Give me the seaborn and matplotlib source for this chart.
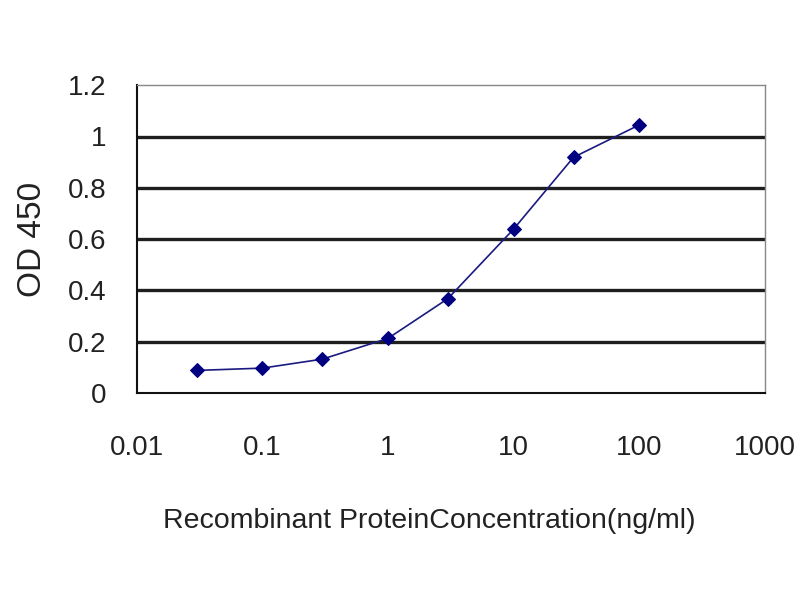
import numpy as np
import pandas as pd
import seaborn as sns
import matplotlib
matplotlib.use("Agg")
import matplotlib.pyplot as plt
from matplotlib.ticker import FixedLocator, FixedFormatter, NullLocator

# Data
concentration = [0.03, 0.1, 0.3, 1, 3, 10, 30, 100]
od450 = [0.088, 0.097, 0.132, 0.213, 0.368, 0.639, 0.919, 1.045]

x_ticks = [0.01, 0.1, 1, 10, 100, 1000]
x_tick_labels = ["0.01", "0.1", "1", "10", "100", "1000"]
y_ticks = [0, 0.2, 0.4, 0.6, 0.8, 1.0, 1.2]
y_tick_labels = ["0", "0.2", "0.4", "0.6", "0.8", "1", "1.2"]

df = pd.DataFrame({"conc": concentration, "od": od450})

sns.set_style("white")
plt.rcParams["font.family"] = ["Liberation Sans", "DejaVu Sans"]

fig = plt.figure(figsize=(8, 6), dpi=100)
ax = fig.add_axes([0.171, 0.345, 0.785, 0.513])

sns.lineplot(data=df, x="conc", y="od", ax=ax, color="#1a1a80", linewidth=1.2,
             marker="D", markersize=7.5, markerfacecolor="#000080",
             markeredgecolor="#000080")

ax.set_xscale("log")
ax.set_xlim(0.01, 1000)
ax.set_ylim(0, 1.2)

ax.xaxis.set_major_locator(FixedLocator(x_ticks))
ax.xaxis.set_major_formatter(FixedFormatter(x_tick_labels))
ax.xaxis.set_minor_locator(NullLocator())
ax.yaxis.set_major_locator(FixedLocator(y_ticks))
ax.yaxis.set_major_formatter(FixedFormatter(y_tick_labels))

# horizontal gridlines like Excel
for yv in y_ticks[1:-1]:
    ax.axhline(yv, color="#1e1e1e", linewidth=2.4, zorder=1)

ax.tick_params(axis="both", direction="in", length=6, width=1.2,
               labelsize=20, colors="#222222")
ax.tick_params(axis="y", pad=22)
ax.tick_params(axis="x", pad=30)

for side in ["left", "bottom"]:
    ax.spines[side].set_color("#111111")
    ax.spines[side].set_linewidth(1.5)
for side in ["top", "right"]:
    ax.spines[side].set_visible(True)
    ax.spines[side].set_color("#888888")
    ax.spines[side].set_linewidth(1.0)

ax.set_xlabel("Recombinant ProteinConcentration(ng/ml)", fontsize=20.5,
              color="#222222")
ax.xaxis.set_label_coords(0.466, -0.375)
ax.set_ylabel("OD 450", fontsize=24, color="#222222", labelpad=14)

fig.savefig("out.png", dpi=100)
